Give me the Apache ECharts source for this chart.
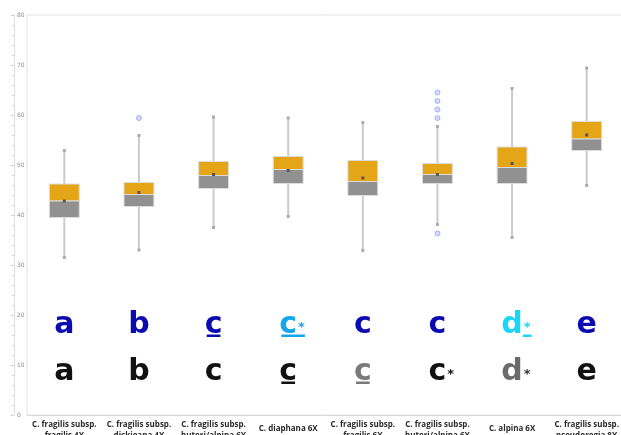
<!DOCTYPE html>
<html>
<head>
<meta charset="utf-8">
<script src="https://cdn.jsdelivr.net/npm/echarts@6/dist/echarts.min.js"></script>
<style>
  html, body { margin: 0; padding: 0; background: #ffffff; }
  #chart { width: 621px; height: 435px; }
</style>
</head>
<body>
<div id="chart"></div>
<script>
// Taxa on the category axis
const categories = [
  'C. fragilis subsp.\nfragilis 4X',
  'C. fragilis subsp.\ndickieana 4X',
  'C. fragilis subsp.\nhuteri/alpina 6X',
  'C. diaphana 6X',
  'C. fragilis subsp.\nfragilis 6X',
  'C. fragilis subsp.\nhuteri/alpina 6X',
  'C. alpina 6X',
  'C. fragilis subsp.\npseudoregia 8X'
];

// Box-plot statistics per taxon
const whiskerLow  = [31.5, 33.0, 37.5, 39.7, 32.9, 38.1, 35.5, 45.9];
const q1          = [39.5, 41.7, 45.3, 46.3, 43.9, 46.3, 46.3, 52.9];
const median      = [42.8, 44.1, 47.9, 49.1, 46.7, 48.1, 49.5, 55.2];
const q3          = [46.2, 46.5, 50.7, 51.7, 50.9, 50.3, 53.6, 58.7];
const whiskerHigh = [52.9, 55.9, 59.6, 59.4, 58.5, 57.7, 65.3, 69.4];
const means       = [42.8, 44.5, 48.1, 48.9, 47.4, 48.1, 50.3, 56.0];

// Outliers (category index, value)
const outlierCategory = [1, 5, 5, 5, 5, 5];
const outlierValue    = [59.4, 64.5, 62.8, 61.1, 59.4, 36.3];

// Significance groups (two comparison rows)
const groupsUpper = ['a', 'b', 'c', 'c', 'c', 'c', 'd', 'e'];
const starsUpper  = [false, false, false, true, false, false, true, false];
const groupsLower = ['a', 'b', 'c', 'c', 'c', 'c', 'd', 'e'];
const starsLower  = [false, false, false, false, false, true, true, false];

// Presentation of the group letters
const upperStyle = {
  rowValue: 18.0,
  colors: ['#0b0bb2', '#0b0bb2', '#0b0bb2', '#14a6ea', '#0b0bb2', '#0b0bb2', '#1ad6f6', '#0b0bb2'],
  starColors: ['#0b0bb2', '#0b0bb2', '#0b0bb2', '#14a6ea', '#0b0bb2', '#0b0bb2', '#1ad6f6', '#0b0bb2'],
  underline: ['', '', 'letter', 'both', '', '', 'star', '']
};
const lowerStyle = {
  rowValue: 8.6,
  colors: ['#111111', '#111111', '#111111', '#111111', '#7a7a7a', '#111111', '#6a6a6a', '#111111'],
  starColors: ['#111111', '#111111', '#111111', '#111111', '#7a7a7a', '#111111', '#333333', '#111111'],
  underline: ['', '', '', 'letter', 'letter', '', '', '']
};

const LETTER_FONT = 'bold 30px "DejaVu Sans"';
const STAR_FONT = 'bold 13px "DejaVu Sans"';
const measureCtx = document.createElement('canvas').getContext('2d');
function textWidth(t, font) {
  measureCtx.font = font;
  return measureCtx.measureText(t).width;
}

const boxData = categories.map((c, i) => [i, whiskerLow[i], q1[i], median[i], q3[i], whiskerHigh[i], means[i]]);
const outlierData = outlierCategory.map((c, i) => [c, outlierValue[i]]);

function renderBox(params, api) {
  const i = api.value(0);
  const x = api.coord([i, 0])[0];
  const w = api.size([1, 0])[0] * 0.4;
  const y = v => api.coord([i, v])[1];
  const yLo = y(api.value(1)), yQ1 = y(api.value(2)), yMed = y(api.value(3));
  const yQ3 = y(api.value(4)), yHi = y(api.value(5)), yMean = y(api.value(6));
  return {
    type: 'group',
    children: [
      { type: 'line', shape: { x1: x, y1: yHi, x2: x, y2: yLo }, style: { stroke: '#cacaca', lineWidth: 2 } },
      { type: 'rect', shape: { x: x - 1.5, y: yHi - 1.5, width: 3, height: 3 }, style: { fill: '#ababab' } },
      { type: 'rect', shape: { x: x - 1.5, y: yLo - 1.5, width: 3, height: 3 }, style: { fill: '#ababab' } },
      { type: 'rect', shape: { x: x - w / 2, y: yQ3, width: w, height: yMed - yQ3 }, style: { fill: '#e4a617', stroke: '#dcdcdc', lineWidth: 1 } },
      { type: 'rect', shape: { x: x - w / 2, y: yMed, width: w, height: yQ1 - yMed }, style: { fill: '#919191', stroke: '#dcdcdc', lineWidth: 1 } },
      { type: 'rect', shape: { x: x - 1.5, y: yMean - 1.5, width: 3, height: 3 }, style: { fill: '#555555' } }
    ]
  };
}

function letterRenderer(letters, stars, style) {
  return function (params, api) {
    const i = api.value(0);
    const p = api.coord([i, api.value(1)]);
    const letter = letters[i];
    const lw = textWidth(letter, LETTER_FONT);
    const children = [{
      type: 'text',
      style: { text: letter, x: p[0], y: p[1], align: 'center', verticalAlign: 'middle', font: LETTER_FONT, fill: style.colors[i] }
    }];
    const starX = p[0] + lw / 2 + 1;
    const sw = textWidth('*', STAR_FONT);
    if (stars[i]) {
      children.push({
        type: 'text',
        style: { text: '*', x: starX, y: p[1] + 2.5, align: 'left', verticalAlign: 'middle', font: STAR_FONT, fill: style.starColors[i] }
      });
    }
    const mode = style.underline[i];
    if (mode) {
      let x0 = p[0] - lw / 2 + 2, x1 = p[0] + lw / 2 - 2;
      if (mode === 'both') x1 = starX + sw;
      if (mode === 'star') { x0 = starX - 1; x1 = starX + sw + 1; }
      children.push({
        type: 'rect',
        shape: { x: x0, y: p[1] + 9.5, width: x1 - x0, height: 2.5 },
        style: { fill: style.colors[i] }
      });
    }
    return { type: 'group', children };
  };
}

const chart = echarts.init(document.getElementById('chart'), null, { renderer: 'canvas' });
chart.setOption({
  animation: false,
  backgroundColor: '#ffffff',
  grid: {
    left: 27, right: -3, top: 15, bottom: 20,
    outerBoundsMode: 'none',
    show: true, borderColor: '#e2e2e2', borderWidth: 1
  },
  xAxis: {
    type: 'category',
    data: categories,
    axisLine: { show: true, lineStyle: { color: '#dadada' } },
    axisTick: { show: false },
    splitLine: { show: false },
    axisLabel: {
      interval: 0,
      margin: 4,
      fontSize: 8,
      fontWeight: 'bold',
      fontFamily: '"Open Sans"',
      lineHeight: 11,
      color: '#2a2a2a',
      // single-line names sit lower, level with the second line of the others
      formatter: v => (v.indexOf('\n') < 0 ? '{one|' + v + '}' : v),
      rich: {
        one: { fontSize: 8, fontWeight: 'bold', fontFamily: '"Open Sans"', color: '#2a2a2a', padding: [9, 0, 0, 0] }
      }
    }
  },
  yAxis: {
    type: 'value',
    min: 0,
    max: 80,
    interval: 10,
    offset: 13,
    axisLine: { show: true, lineStyle: { color: '#dedede' } },
    axisTick: { show: true, length: 3, lineStyle: { color: '#cfcfcf' } },
    minorTick: { show: true, splitNumber: 5, length: 2, lineStyle: { color: '#d8d8d8' } },
    splitLine: { show: false },
    axisLabel: { inside: true, margin: 3, fontSize: 6, color: '#8a8a8a', fontFamily: '"DejaVu Sans"' }
  },
  series: [
    {
      type: 'custom',
      renderItem: renderBox,
      encode: { x: 0, y: [1, 2, 3, 4, 5] },
      data: boxData,
      z: 2
    },
    {
      type: 'scatter',
      data: outlierData,
      symbol: 'circle',
      symbolSize: 5,
      itemStyle: { color: 'rgba(160,168,255,0.55)', borderColor: '#9aa2ff', borderWidth: 1 },
      z: 3
    },
    {
      type: 'custom',
      renderItem: letterRenderer(groupsUpper, starsUpper, upperStyle),
      encode: { x: 0, y: 1 },
      data: categories.map((c, i) => [i, upperStyle.rowValue]),
      z: 4
    },
    {
      type: 'custom',
      renderItem: letterRenderer(groupsLower, starsLower, lowerStyle),
      encode: { x: 0, y: 1 },
      data: categories.map((c, i) => [i, lowerStyle.rowValue]),
      z: 4
    }
  ]
});
</script>
</body>
</html>
